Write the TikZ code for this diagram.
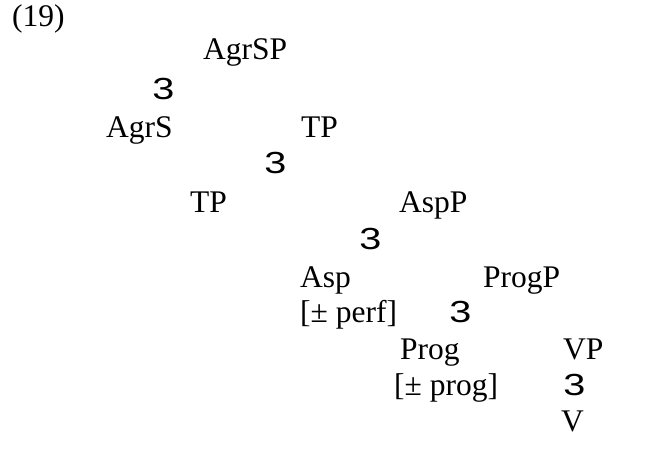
\documentclass[tikz,border=0pt]{standalone}
\usepackage{fontspec}
\setmainfont{Liberation Serif}
\newfontfamily\branchfont{Liberation Sans}
\begin{document}
\begin{tikzpicture}[x=1pt,y=-1pt,
  lab/.style={anchor=mid west,inner sep=0pt,font=\fontsize{31.5}{36}\selectfont},
  br/.style={anchor=mid west,inner sep=0pt,font=\fontsize{30.5}{34}\branchfont,xscale=1.3}]
\useasboundingbox[fill=white] (0,0) rectangle (654,466);
\node[lab] (ex) at (12,24) {(19)};
\node[lab] (agrsp) at (203,57) {AgrSP};
\node[br] (b1) at (152,97) {3};
\node[lab] (agrs) at (106,135) {AgrS};
\node[lab] (tp) at (301,135) {TP};
\node[br] (b2) at (264,171) {3};
\node[lab] (tp2) at (190,210) {TP};
\node[lab] (aspp) at (399,210) {AspP};
\node[br] (b3) at (359,247) {3};
\node[lab] (asp) at (300,285) {Asp};
\node[lab] (progp) at (483,285) {ProgP};
\node[lab] (perf) at (300,320) {[± perf]};
\node[br] (b4) at (449,320) {3};
\node[lab] (prog) at (400,357) {Prog};
\node[lab] (vp) at (563,357) {VP};
\node[lab] (pprog) at (394,393) {[± prog]};
\node[br] (b5) at (563,393) {3};
\node[lab] (v) at (561,429) {V};
\end{tikzpicture}
\end{document}
